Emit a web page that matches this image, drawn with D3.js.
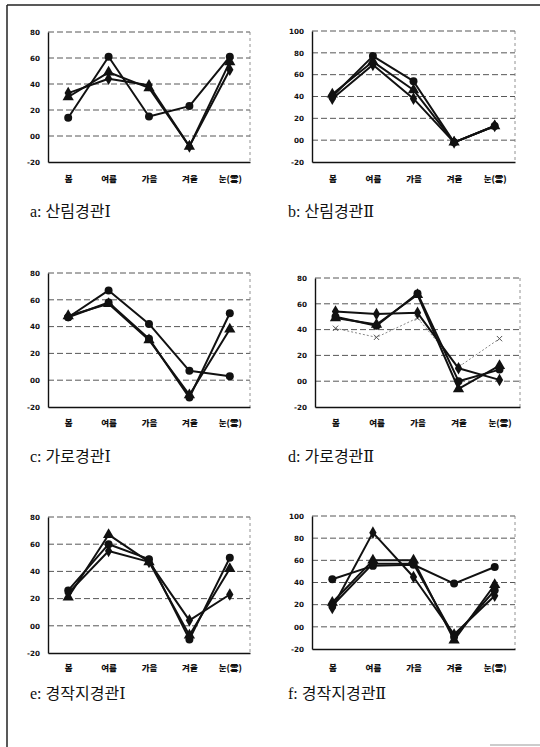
<!DOCTYPE html>
<html><head><meta charset="utf-8">
<script src="https://cdn.jsdelivr.net/npm/d3@7"></script>
<style>
html,body{margin:0;padding:0;background:#fff;}
svg{display:block;}
</style></head>
<body>
<svg id="c" width="540" height="747"></svg>
<script>
// ---- data ----
const categories = ["봄", "여름", "가을", "겨울", "눈(雪)"];
const ticks80 = [80, 60, 40, 20, 0, -20];
const ticks80Labels = ["80", "60", "40", "20", "00", "-20"];
const ticks100 = [100, 80, 60, 40, 20, 0, -20];
const ticks100Labels = ["100", "80", "60", "40", "20", "00", "-20"];
const captions = ["a: 산림경관Ⅰ", "b: 산림경관Ⅱ", "c: 가로경관Ⅰ", "d: 가로경관Ⅱ", "e: 경작지경관Ⅰ", "f: 경작지경관Ⅱ"];

const aCircle   = [14, 61, 15, 23, 61];
const aTriangle = [30, 49, 37, -8, 57];
const aDiamond  = [33, 44, 39, -8, 51];

const bCircle   = [40, 77, 54, -2, 13];
const bTriangle = [42, 72, 46, -2, 13];
const bDiamond  = [38, 69, 38, -2, 13];

const cCircle   = [47, 67, 42, 7, 3];
const cCircle2  = [47, 58, 31, -13, 50];
const cTriangle = [48, 57, 30, -11, 38];

const dDiamond  = [54, 52, 53, 10, 1];
const dCircle   = [50, 43, 68, 0, 9];
const dTriangle = [49, 44, 67, -6, 12];
const dDotted   = [41, 34, 49, 11, 33];

const eCircle   = [26, 60, 49, -10, 50];
const eTriangle = [21, 67, 47, -7, 42];
const eDiamond  = [24, 55, 47, 4, 23];

const fCircle   = [43, 55, 56, 39, 54];
const fDiamond  = [17, 85, 45, -7, 28];
const fTriangle = [22, 60, 60, -12, 38];
const fCircle2  = [19, 57, 57, -9, 33];

// ---- layout ----
const panels = [
  {x0:48, x1:250, yTop:32, yBot:162, ticks:ticks80, labels:ticks80Labels, labelY:179, cap:[30,217],
   series:[{v:aCircle,m:"circle"},{v:aTriangle,m:"triangle"},{v:aDiamond,m:"diamond"}]},
  {x0:312, x1:515, yTop:31, yBot:162, ticks:ticks100, labels:ticks100Labels, labelY:179, cap:[288,217],
   series:[{v:bCircle,m:"circle"},{v:bTriangle,m:"triangle"},{v:bDiamond,m:"diamond"}]},
  {x0:48, x1:250, yTop:273, yBot:407, ticks:ticks80, labels:ticks80Labels, labelY:423, cap:[30,462],
   series:[{v:cCircle,m:"circle"},{v:cCircle2,m:"circle"},{v:cTriangle,m:"triangle"}]},
  {x0:315, x1:520, yTop:278, yBot:407, ticks:ticks80, labels:ticks80Labels, labelY:423, cap:[288,462],
   series:[{v:dDotted,m:"times",dotted:true},{v:dDiamond,m:"diamond"},{v:dCircle,m:"circle"},{v:dTriangle,m:"triangle"}]},
  {x0:48, x1:250, yTop:517, yBot:653, ticks:ticks80, labels:ticks80Labels, labelY:668, cap:[30,699],
   series:[{v:eCircle,m:"circle"},{v:eTriangle,m:"triangle"},{v:eDiamond,m:"diamond"}]},
  {x0:312, x1:515, yTop:516, yBot:649, ticks:ticks100, labels:ticks100Labels, labelY:668, cap:[288,699],
   series:[{v:fCircle,m:"circle"},{v:fDiamond,m:"diamond"},{v:fTriangle,m:"triangle"},{v:fCircle2,m:"circle"}]}
];

const svg = d3.select("#c");

// frame
svg.append("line").attr("x1",7).attr("x2",7).attr("y1",5).attr("y2",747).attr("stroke","#222").attr("stroke-width",1.5);
svg.append("line").attr("x1",7).attr("x2",540).attr("y1",5).attr("y2",5).attr("stroke","#222").attr("stroke-width",1.5);
svg.append("line").attr("x1",490).attr("x2",540).attr("y1",745).attr("y2",745).attr("stroke","#bbb").attr("stroke-width",1.5);

const symTypes = {circle:d3.symbolCircle, triangle:d3.symbolTriangle, diamond:d3.symbolDiamond, times:d3.symbolTimes};
const symSizes = {circle:50, triangle:55, diamond:46, times:20};

panels.forEach((p, i) => {
  const g = svg.append("g");
  const maxV = p.ticks[0], minV = p.ticks[p.ticks.length-1];
  const x = d3.scalePoint().domain(categories).range([p.x0, p.x1]).padding(0.5);
  const y = d3.scaleLinear().domain([minV, maxV]).range([p.yBot, p.yTop]);

  // gridlines
  g.selectAll(".grid").data(p.ticks.slice(0,-1)).enter().append("line")
    .attr("x1", p.x0).attr("x2", p.x1)
    .attr("y1", d => y(d)).attr("y2", d => y(d))
    .attr("stroke", "#444").attr("stroke-width", 0.9).attr("stroke-dasharray", "6,3");
  // right dashed border
  g.append("line").attr("x1", p.x1).attr("x2", p.x1).attr("y1", p.yTop).attr("y2", p.yBot)
    .attr("stroke", "#777").attr("stroke-width", 0.8).attr("stroke-dasharray", "3,3");

  // axes
  const yAxis = d3.axisLeft(y).tickValues(p.ticks).tickSize(0).tickPadding(8)
    .tickFormat((d, k) => p.labels[k]);
  const ya = g.append("g").attr("transform", `translate(${p.x0},0)`).call(yAxis);
  ya.select(".domain").attr("stroke", "#111").attr("stroke-width", 1.4);
  ya.selectAll("text").attr("font-family", "DejaVu Sans, sans-serif").attr("font-size", 7.2)
    .attr("font-weight", "bold").attr("fill", "#111");

  const xAxis = d3.axisBottom(x).tickSize(0).tickPadding(0);
  const xa = g.append("g").attr("transform", `translate(0,${p.yBot})`).call(xAxis);
  xa.select(".domain").attr("stroke", "#111").attr("stroke-width", 1.4);
  xa.selectAll("text").attr("y", p.labelY - p.yBot).attr("dy", "0.35em")
    .attr("font-family", "Noto Sans CJK KR, sans-serif").attr("font-size", 8.5)
    .attr("font-weight", 900).attr("fill", "#111");

  // series
  const line = d3.line().x((d, k) => x(categories[k])).y(d => y(d));
  p.series.forEach(s => {
    g.append("path").datum(s.v).attr("d", line).attr("fill", "none")
      .attr("stroke", s.dotted ? "#888" : "#111")
      .attr("stroke-width", s.dotted ? 1 : 2)
      .attr("stroke-dasharray", s.dotted ? "2,2" : null)
      .attr("stroke-linejoin", "round");
    const sym = d3.symbol().type(symTypes[s.m]).size(symSizes[s.m]);
    g.selectAll(null).data(s.v).enter().append("path")
      .attr("d", sym)
      .attr("transform", (d, k) => `translate(${x(categories[k])},${y(d)})`)
      .attr("fill", s.m === "times" ? "none" : "#111")
      .attr("stroke", s.m === "times" ? "#555" : "none")
      .attr("stroke-width", 1);
  });

  // caption
  svg.append("text").attr("x", p.cap[0]).attr("y", p.cap[1])
    .attr("font-family", "Liberation Serif, DejaVu Serif, Noto Sans CJK KR, serif")
    .attr("font-size", 16).attr("fill", "#111").text(captions[i]);
});
</script>
</body></html>
